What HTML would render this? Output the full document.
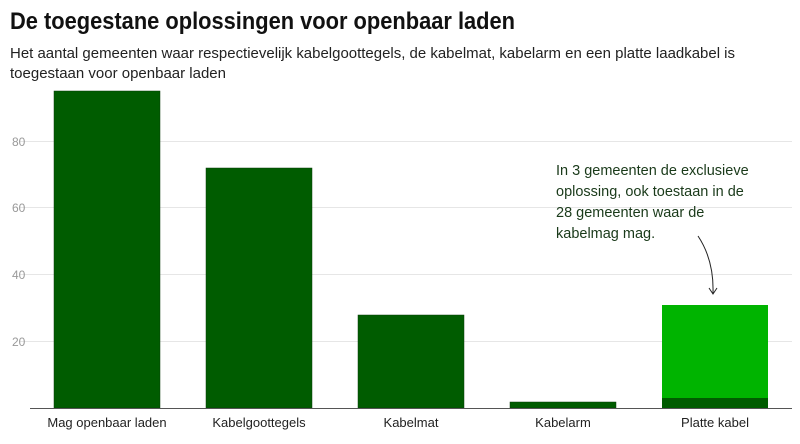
<!DOCTYPE html>
<html><head><meta charset="utf-8"><style>
body{margin:0;background:#fff;width:800px;height:439px;overflow:hidden;font-family:"Liberation Sans",sans-serif;}
</style></head><body>
<svg width="800" height="439" xmlns="http://www.w3.org/2000/svg" font-family="Liberation Sans, sans-serif">
<text x="10" y="29" font-size="24" font-weight="bold" fill="#111" textLength="505" lengthAdjust="spacingAndGlyphs">De toegestane oplossingen voor openbaar laden</text>
<text x="10" y="58" font-size="15" fill="#222" textLength="725" lengthAdjust="spacingAndGlyphs">Het aantal gemeenten waar respectievelijk kabelgoottegels, de kabelmat, kabelarm en een platte laadkabel is</text>
<text x="10" y="78" font-size="15" fill="#222" textLength="216" lengthAdjust="spacingAndGlyphs">toegestaan voor openbaar laden</text>
<g stroke="#e6e6e6" stroke-width="1">
<line x1="20" x2="792" y1="141.5" y2="141.5"/>
<line x1="20" x2="792" y1="207.5" y2="207.5"/>
<line x1="20" x2="792" y1="274.5" y2="274.5"/>
<line x1="20" x2="792" y1="341.5" y2="341.5"/>
</g>
<g font-size="12" fill="#999">
<text x="12" y="146">80</text><text x="12" y="212">60</text><text x="12" y="279">40</text><text x="12" y="346">20</text>
</g>
<g fill="#005c00" stroke="#0a3a0a" stroke-width="0.5">
<rect x="54" y="91" width="106" height="317"/>
<rect x="206" y="168" width="106" height="240"/>
<rect x="358" y="315" width="106" height="93"/>
<rect x="510" y="402" width="106" height="6"/>
</g>
<rect x="662" y="305" width="106" height="93" fill="#00b400"/>
<rect x="662" y="398" width="106" height="10" fill="#005c00"/>
<line x1="30" x2="792" y1="408.5" y2="408.5" stroke="#555" stroke-width="1"/>
<g font-size="13" fill="#222" text-anchor="middle">
<text x="107" y="427">Mag openbaar laden</text>
<text x="259" y="427">Kabelgoottegels</text>
<text x="411" y="427">Kabelmat</text>
<text x="563" y="427">Kabelarm</text>
<text x="715" y="427">Platte kabel</text>
</g>
<g font-size="14.5" fill="#1a3a1a">
<text x="556" y="175">In 3 gemeenten de exclusieve</text>
<text x="556" y="196">oplossing, ook toestaan in de</text>
<text x="556" y="217">28 gemeenten waar de</text>
<text x="556" y="238">kabelmag mag.</text>
</g>
<path d="M698 236 Q714 260 713 293" fill="none" stroke="#222" stroke-width="1"/>
<path d="M709 288 L713 294 L717 288" fill="none" stroke="#222" stroke-width="1"/>
</svg>
</body></html>
